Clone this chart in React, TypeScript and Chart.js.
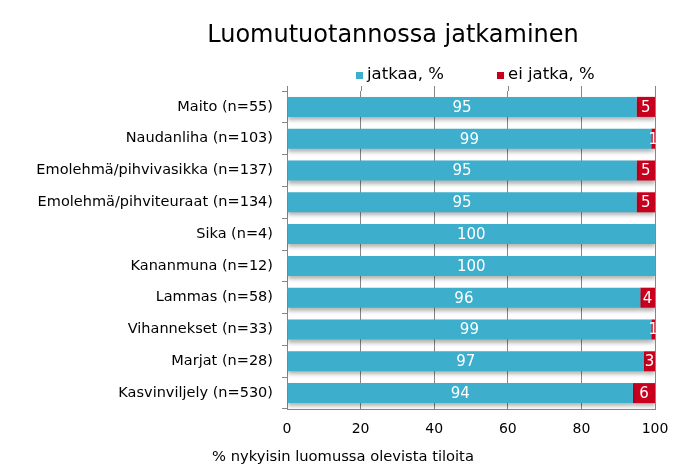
import React, { useEffect, useRef } from "react";
import { Chart, registerables } from "chart.js";

Chart.register(...registerables);

const categories = [
  "Maito (n=55)",
  "Naudanliha (n=103)",
  "Emolehmä/pihvivasikka (n=137)",
  "Emolehmä/pihviteuraat (n=134)",
  "Sika (n=4)",
  "Kananmuna (n=12)",
  "Lammas (n=58)",
  "Vihannekset (n=33)",
  "Marjat (n=28)",
  "Kasvinviljely (n=530)",
];
const jatkaa = [95, 99, 95, 95, 100, 100, 96, 99, 97, 94];
const eiJatka = [5, 1, 5, 5, 0, 0, 4, 1, 3, 6];
const seriesNames = ["jatkaa, %", "ei jatka, %"];
const xTicks = [0, 20, 40, 60, 80, 100];
const chartTitle = "Luomutuotannossa jatkaminen";
const xTitle = "% nykyisin luomussa olevista tiloita";

const BLUE = "#3DAFCD";
const RED = "#C8001E";
const FONT = "'DejaVu Sans', Verdana, sans-serif";

export default function App() {
  const ref = useRef<HTMLCanvasElement | null>(null);
  useEffect(() => {
    if (!ref.current) return;
    const decor = {
      id: "decor",
      beforeDatasetsDraw(chart: any) {
        const ctx = chart.ctx;
        // small tick marks above the plot area
        const xs = chart.scales.x;
        ctx.save();
        ctx.strokeStyle = "#868686";
        ctx.lineWidth = 1;
        xTicks.forEach((v) => {
          const px = Math.round(xs.getPixelForValue(v)) + 0.5;
          ctx.beginPath();
          ctx.moveTo(px, chart.chartArea.top - 5);
          ctx.lineTo(px, chart.chartArea.top);
          ctx.stroke();
        });
        ctx.restore();
        ctx.save();
        ctx.shadowColor = "rgba(0,0,0,0.3)";
        ctx.shadowBlur = 4;
        ctx.shadowOffsetX = 0;
        ctx.shadowOffsetY = 3;
      },
      afterDatasetsDraw(chart: any) {
        const ctx = chart.ctx;
        ctx.restore();
        ctx.save();
        ctx.fillStyle = "#ffffff";
        ctx.font = `15px ${FONT}`;
        ctx.textAlign = "center";
        ctx.textBaseline = "middle";
        chart.data.datasets.forEach((ds: any, di: number) => {
          const meta = chart.getDatasetMeta(di);
          meta.data.forEach((bar: any, i: number) => {
            const v = ds.data[i];
            if (!v) return;
            const { x, base, y } = bar.getProps(["x", "base", "y"], true);
            ctx.fillText(String(v), (x + base) / 2, y + 1);
          });
        });
        ctx.restore();
      },
      afterDraw(chart: any) {
        const ctx = chart.ctx;
        ctx.save();
        ctx.fillStyle = "#000000";
        ctx.textBaseline = "middle";
        ctx.textAlign = "center";
        ctx.font = `24px ${FONT}`;
        ctx.fillText(chartTitle, 393, 36);
        ctx.font = `14.7px ${FONT}`;
        ctx.fillText(xTitle, 343, 457);
        // legend
        ctx.textAlign = "left";
        ctx.font = `16.5px ${FONT}`;
        const items = [
          { x: 356, color: BLUE, text: seriesNames[0] },
          { x: 497, color: RED, text: seriesNames[1] },
        ];
        items.forEach((it) => {
          ctx.fillStyle = it.color;
          ctx.fillRect(it.x, 72, 7, 7);
          ctx.fillStyle = "#000000";
          ctx.fillText(it.text, it.x + 11, 75);
        });
        ctx.restore();
      },
    };
    const chart = new Chart(ref.current, {
      type: "bar",
      data: {
        labels: categories,
        datasets: [
          { label: seriesNames[0], data: jatkaa, backgroundColor: BLUE, barPercentage: 0.63, categoryPercentage: 1 },
          { label: seriesNames[1], data: eiJatka, backgroundColor: RED, barPercentage: 0.63, categoryPercentage: 1 },
        ],
      },
      options: {
        indexAxis: "y",
        animation: false,
        responsive: false,
        devicePixelRatio: 1,
        layout: { padding: { left: 0, right: 37, top: 91, bottom: 0 } },
        plugins: { legend: { display: false }, title: { display: false }, tooltip: { enabled: false } },
        scales: {
          x: {
            stacked: true,
            min: 0,
            max: 100,
            afterBuildTicks(scale: any) {
              scale.ticks = xTicks.map((v) => ({ value: v }));
            },
            afterFit(scale: any) {
              scale.height = 467 - 409;
            },
            grid: { color: "#868686", drawTicks: false, lineWidth: 1 },
            border: { display: true, color: "#868686" },
            ticks: { color: "#000", font: { family: FONT, size: 14 }, padding: 12 },
          },
          y: {
            stacked: true,
            afterFit(scale: any) {
              scale.width = 287;
            },
            grid: { drawOnChartArea: false, drawTicks: true, tickLength: 5, color: "#868686" },
            border: { display: true, color: "#868686" },
            ticks: { color: "#000", font: { family: FONT, size: 14.5 }, padding: 9 },
          },
        },
      },
      plugins: [decor],
    });
    return () => chart.destroy();
  }, []);
  return (
    <div style={{ position: "absolute", left: 0, top: 0, width: 692, height: 467, background: "#fff" }}>
      <canvas ref={ref} width={692} height={467} style={{ width: 692, height: 467, display: "block" }} />
    </div>
  );
}
